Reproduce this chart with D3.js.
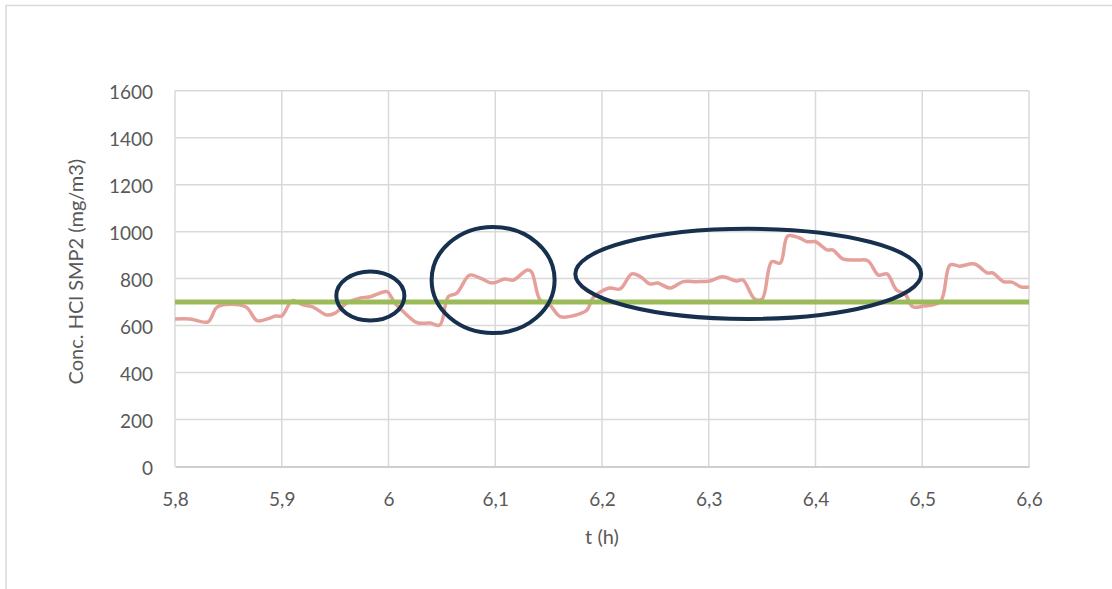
<!DOCTYPE html>
<html>
<head>
<meta charset="utf-8">
<script src="https://cdn.jsdelivr.net/npm/d3@7"></script>
<style>
  html, body { margin: 0; padding: 0; background: #fff; }
  svg { display: block; }
  svg text { font-family: Lato, "Open Sans", sans-serif; }
</style>
</head>
<body>
<svg id="chart" width="1112" height="589"></svg>
<script>
// Measured HCl concentration at SMP2 over time
const times = [5.800, 5.814, 5.831, 5.840, 5.866, 5.877, 5.889, 5.894, 5.900, 5.910,
  5.920, 5.929, 5.942, 5.950, 5.961, 5.973, 5.983, 5.995, 5.999, 6.006,
  6.014, 6.027, 6.039, 6.048, 6.056, 6.064, 6.076, 6.086, 6.097, 6.109,
  6.117, 6.130, 6.134, 6.142, 6.151, 6.161, 6.179, 6.186, 6.192, 6.207,
  6.217, 6.228, 6.236, 6.245, 6.252, 6.264, 6.276, 6.289, 6.301, 6.313,
  6.326, 6.332, 6.343, 6.350, 6.359, 6.367, 6.374, 6.385, 6.392, 6.400,
  6.411, 6.416, 6.426, 6.439, 6.449, 6.459, 6.467, 6.476, 6.484, 6.491,
  6.501, 6.517, 6.526, 6.535, 6.549, 6.561, 6.566, 6.576, 6.584, 6.593, 6.600];
const concentration = [628, 628, 616, 680, 680, 621, 632, 641, 641, 706,
  688, 680, 645, 653, 696, 717, 723, 743, 744, 696,
  659, 612, 611, 602, 723, 738, 815, 802, 781, 798,
  794, 837, 829, 709, 688, 638, 650, 666, 721, 760,
  756, 820, 808, 777, 781, 760, 787, 787, 790, 808,
  790, 794, 713, 713, 872, 866, 981, 973, 957, 957,
  922, 922, 883, 879, 876, 815, 820, 751, 734, 680,
  683, 702, 858, 853, 862, 824, 824, 787, 785, 764, 764];

// Emission limit
const limitValue = 700;

// Axis ticks
const xTicks = [5.8, 5.9, 6.0, 6.1, 6.2, 6.3, 6.4, 6.5, 6.6];
const yTicks = [0, 200, 400, 600, 800, 1000, 1200, 1400, 1600];

// Highlighted exceedance zones: centre (t, value) and radii (t, value)
const zoneCentreT = [5.983, 6.098, 6.337];
const zoneCentreV = [726, 794, 820];
const zoneRadiusT = [0.0319, 0.0576, 0.162];
const zoneRadiusV = [104, 226, 192];

const svg = d3.select("#chart");
const W = 1112, H = 589;
const margin = { left: 175, right: W - 1029, top: 90.7, bottom: H - 466.5 };
const textColor = "#595959";
const fontFamily = 'Lato, "Open Sans", sans-serif';

// outer chart frame
svg.append("rect")
  .attr("x", 6).attr("y", 5.5).attr("width", W + 10).attr("height", H + 10)
  .attr("fill", "#fff").attr("stroke", "#d9d9d9").attr("stroke-width", 1.5);

const x = d3.scaleLinear().domain([5.8, 6.6]).range([margin.left, W - margin.right]);
const y = d3.scaleLinear().domain([0, 1600]).range([H - margin.bottom, margin.top]);

// gridlines
const grid = svg.append("g");
grid.selectAll("line.h").data(yTicks.filter(d => d > 0)).join("line")
  .attr("x1", x(5.8)).attr("x2", x(6.6))
  .attr("y1", d => y(d)).attr("y2", d => y(d))
  .attr("stroke", "#d9d9d9").attr("stroke-width", 1.5);
grid.selectAll("line.v").data(xTicks).join("line")
  .attr("x1", d => x(d)).attr("x2", d => x(d))
  .attr("y1", y(0)).attr("y2", y(1600))
  .attr("stroke", "#d9d9d9").attr("stroke-width", 1.5);

// x axis (decimal comma)
const fmtComma = d => (Math.round(d * 10) % 10 === 0 ? String(Math.round(d)) : d.toFixed(1).replace(".", ","));
const xAxis = svg.append("g").attr("transform", `translate(0,${y(0)})`)
  .call(d3.axisBottom(x).tickValues(xTicks).tickSize(0).tickPadding(21).tickFormat(fmtComma))
  .attr("font-family", fontFamily).attr("font-size", 19);
xAxis.select(".domain").attr("stroke", "#bfbfbf").attr("stroke-width", 1.5);
xAxis.selectAll("text").attr("fill", textColor).attr("dy", null)
  .attr("dominant-baseline", "central").attr("y", 31.5);

// y axis
const yAxis = svg.append("g").attr("transform", `translate(${x(5.8)},0)`)
  .call(d3.axisLeft(y).tickValues(yTicks).tickSize(0).tickPadding(22).tickFormat(d3.format("d")))
  .attr("font-family", fontFamily).attr("font-size", 19);
yAxis.select(".domain").remove();
yAxis.selectAll("text").attr("fill", textColor).attr("dy", null).attr("dominant-baseline", "central");

// axis titles
svg.append("text")
  .attr("x", (x(5.8) + x(6.6)) / 2).attr("y", 536)
  .attr("text-anchor", "middle").attr("dominant-baseline", "central")
  .attr("font-size", 20).attr("fill", textColor)
  .text("t (h)");
svg.append("text")
  .attr("transform", `translate(75,${(y(0) + y(1600)) / 2 - 7}) rotate(-90)`)
  .attr("text-anchor", "middle").attr("dominant-baseline", "central")
  .attr("font-size", 20).attr("fill", textColor)
  .text("Conc. HCl SMP2 (mg/m3)");

// concentration trace (smoothed)
const series = times.map((t, i) => ({ t, v: concentration[i] }));
svg.append("path").datum(series)
  .attr("fill", "none").attr("stroke", "#e6a09c").attr("stroke-width", 3.5)
  .attr("stroke-linejoin", "round")
  .attr("d", d3.line().x(d => x(d.t)).y(d => y(d.v)).curve(d3.curveCatmullRom.alpha(0.5)));

// limit line
svg.append("line")
  .attr("x1", x(5.8)).attr("x2", x(6.6))
  .attr("y1", y(limitValue)).attr("y2", y(limitValue))
  .attr("stroke", "#9bbb59").attr("stroke-width", 5);

// exceedance zone outlines
svg.selectAll("ellipse.zone").data(zoneCentreT).join("ellipse")
  .attr("cx", d => x(d))
  .attr("cy", (d, i) => y(zoneCentreV[i]))
  .attr("rx", (d, i) => x(5.8 + zoneRadiusT[i]) - x(5.8))
  .attr("ry", (d, i) => y(0) - y(zoneRadiusV[i]))
  .attr("fill", "none").attr("stroke", "#17304d").attr("stroke-width", 4);
</script>
</body>
</html>
